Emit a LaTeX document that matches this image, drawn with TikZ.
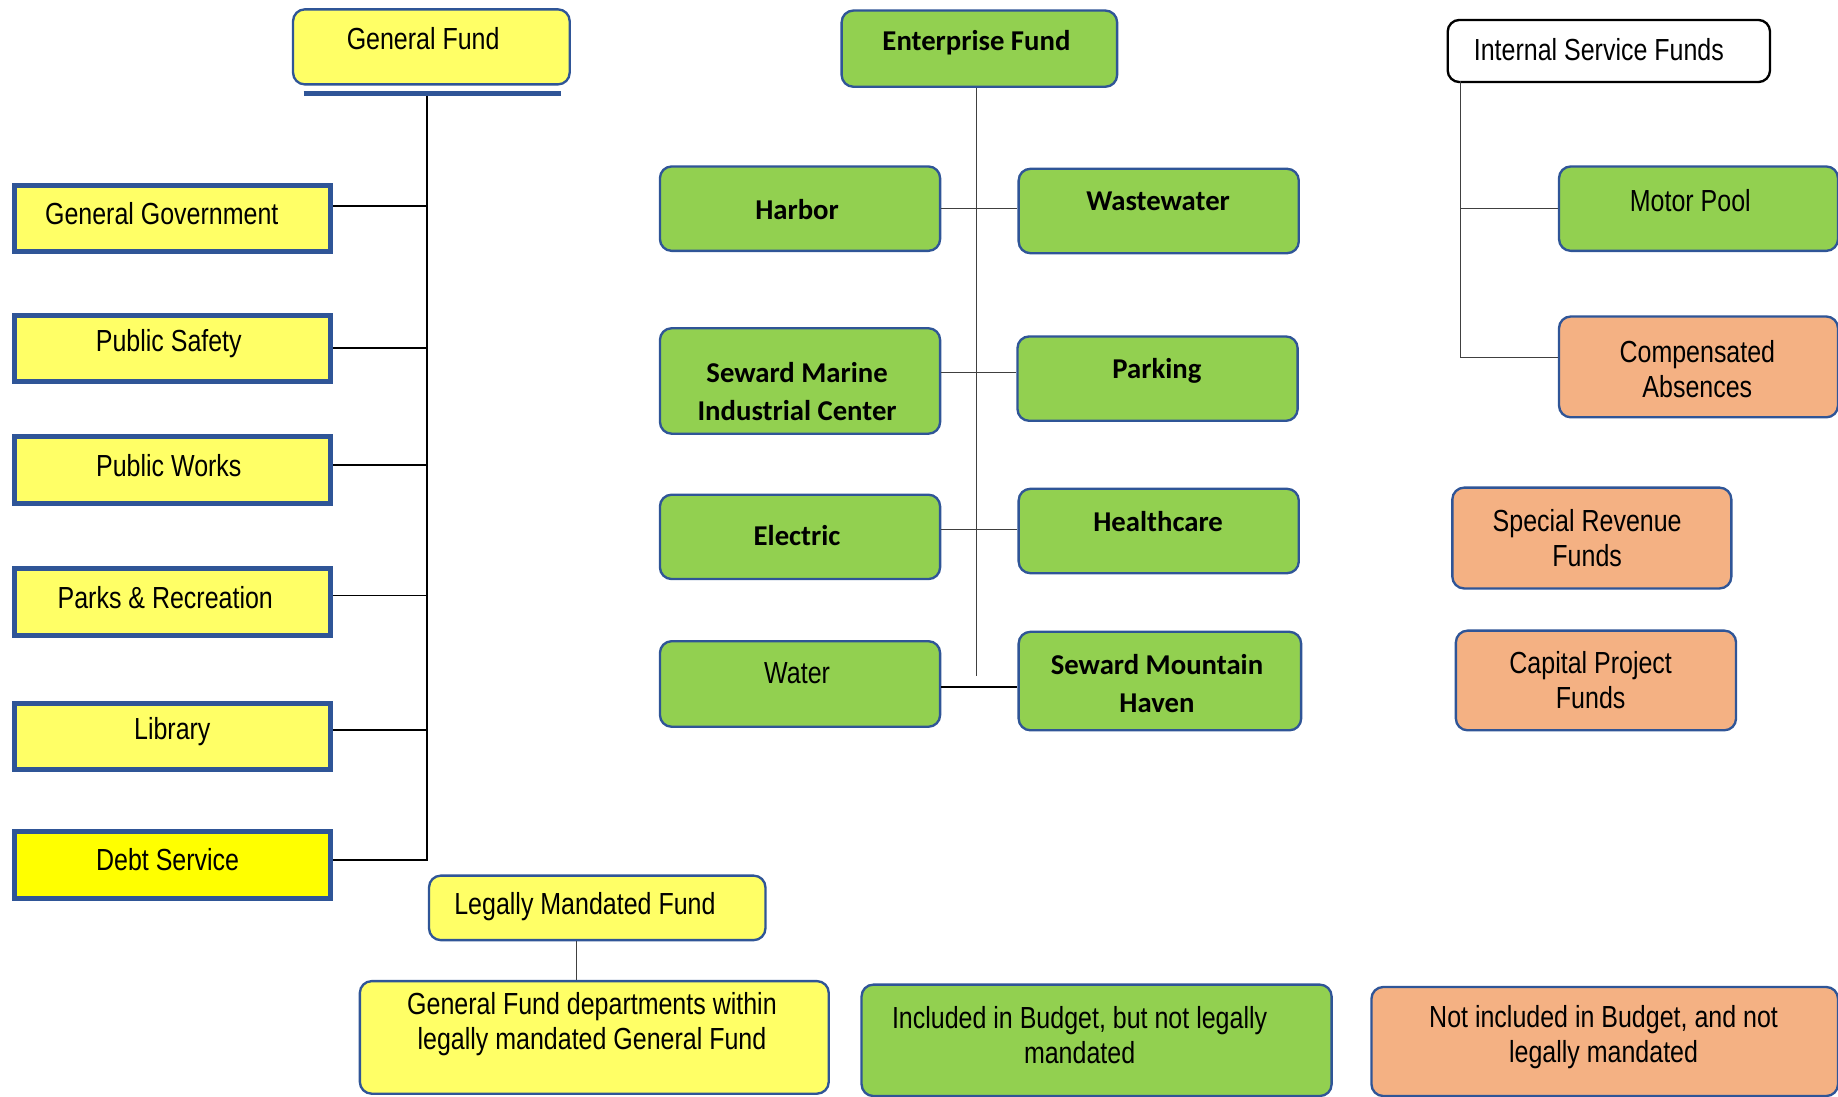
\documentclass[tikz,border=0pt]{standalone}
\usepackage{fontspec}
\setmainfont{Liberation Sans}[FakeStretch=0.82]
\newfontfamily\calib{Carlito}
\usetikzlibrary{calc}
\definecolor{ly}{HTML}{FFFF66}
\definecolor{yy}{HTML}{FFFF00}
\definecolor{gr}{HTML}{92D050}
\definecolor{orr}{HTML}{F4B183}
\definecolor{bb}{HTML}{2F5597}
\definecolor{ln}{HTML}{404040}
\begin{document}
\begin{tikzpicture}[x=1pt,y=-1pt,
  rbox/.style={draw=bb, line width=2pt, rounded corners=10pt, anchor=north west, inner sep=0pt},
  sbox/.style={draw=bb, line width=4.5pt, anchor=north west, inner sep=0pt, fill=ly},
  txt/.style={font=\fontsize{26}{30}\selectfont, align=center, inner sep=0pt},
  btxt/.style={font=\calib\bfseries\fontsize{24.5}{32}\selectfont, align=center, inner sep=0pt},
  thin/.style={draw=ln, line width=1.1pt},
  blk/.style={draw=black, line width=1.6pt}]
\useasboundingbox (0,0) rectangle (1568,935);
% ---------- General Fund column ----------
\node[rbox, fill=ly, minimum width=236pt, minimum height=64pt] (gf) at (249,7) {};
\node[txt] (gft) at (361,33) {General Fund};
\coordinate (barL) at (259,80);
\coordinate (barR) at (479,80);
\draw[bb, line width=4pt] (barL) -- (barR);
\coordinate (gtop) at (364,82);

\node[sbox, minimum width=270pt, minimum height=56pt] (gg) at (10,156) {};
\node[txt] (ggt) at (138,182) {General Government};
\node[sbox, minimum width=270pt, minimum height=56pt] (ps) at (10,267) {};
\node[txt] (pst) at (144,293) {Public Safety};
\node[sbox, minimum width=270pt, minimum height=57pt] (pw) at (10,370) {};
\node[txt] (pwt) at (144,397) {Public Works};
\node[sbox, minimum width=270pt, minimum height=57pt] (pr) at (10,483) {};
\node[txt] (prt) at (141,510) {Parks \& Recreation};
\node[sbox, minimum width=270pt, minimum height=56pt] (lib) at (10,598) {};
\node[txt] (libt) at (147,624) {Library};
\node[sbox, fill=yy, minimum width=270pt, minimum height=57pt] (debt) at (10,707) {};
\node[txt] (debtt) at (143,733) {Debt Service};

\draw[blk] (gtop) |- (debt.east |- 0,734);
\draw[blk] (gg.east |- 0,176) -- (gtop |- 0,176);
\draw[blk] (ps.east |- 0,297) -- (gtop |- 0,297);
\draw[blk] (pw.east |- 0,397) -- (gtop |- 0,397);
\draw[blk] (pr.east |- 0,508) -- (gtop |- 0,508);
\draw[blk] (lib.east |- 0,623) -- (gtop |- 0,623);

\node[rbox, fill=ly, minimum width=287pt, minimum height=55pt] (lmf) at (365,746) {};
\node[txt] (lmft) at (499,773) {Legally Mandated Fund};
\node[rbox, fill=ly, minimum width=400pt, minimum height=96pt] (gfd) at (306,836) {};
\node[txt] (gfdt) at (505,874) {General Fund departments within\\legally mandated General Fund};
\draw[thin] (lmf.south -| 492,0) -- (gfd.north -| 492,0);

% ---------- Enterprise Fund ----------
\node[rbox, fill=gr, minimum width=235pt, minimum height=65pt] (ef) at (717,8) {};
\node[btxt] (eft) at (833,36) {Enterprise Fund};
\node[rbox, fill=gr, minimum width=239pt, minimum height=72pt] (harbor) at (562,141) {};
\node[btxt] (harbort) at (680,179) {Harbor};
\node[rbox, fill=gr, minimum width=239pt, minimum height=72pt] (ww) at (868,143) {};
\node[btxt] (wwt) at (988,172) {Wastewater};
\node[rbox, fill=gr, minimum width=239pt, minimum height=90pt] (smic) at (562,279) {};
\node[btxt] (smict) at (680,334) {Seward Marine\\Industrial Center};
\node[rbox, fill=gr, minimum width=239pt, minimum height=72pt] (park) at (867,286) {};
\node[btxt] (parkt) at (987,316) {Parking};
\node[rbox, fill=gr, minimum width=239pt, minimum height=72pt] (elec) at (562,421) {};
\node[btxt] (elect) at (680,457) {Electric};
\node[rbox, fill=gr, minimum width=239pt, minimum height=72pt] (hc) at (868,416) {};
\node[btxt] (hct) at (988,445) {Healthcare};
\node[rbox, fill=gr, minimum width=239pt, minimum height=73pt] (water) at (562,546) {};
\node[txt] (watert) at (680,574) {Water};
\node[rbox, fill=gr, minimum width=241pt, minimum height=84pt] (smh) at (868,538) {};
\node[btxt] (smht) at (987,583) {Seward Mountain\\Haven};

\coordinate (eend) at (833,577);
\draw[thin] (ef.south -| eend) -- (eend);
\draw[thin] (harbor.east |- 0,178) -- (ww.west |- 0,178);
\draw[thin] (smic.east |- 0,318) -- (park.west |- 0,318);
\draw[thin] (elec.east |- 0,452) -- (hc.west |- 0,452);
\draw[blk] (water.east |- 0,586) -- (smh.west |- 0,586);

% ---------- Internal Service Funds ----------
\node[draw=black, line width=2pt, rounded corners=10pt, anchor=north west, inner sep=0pt, fill=white,
      minimum width=275pt, minimum height=53pt] (isf) at (1234,16) {};
\node[txt] (isft) at (1364,42) {Internal Service Funds};
\node[rbox, fill=gr, minimum width=238pt, minimum height=72pt] (motor) at (1329,141) {};
\node[txt] (motort) at (1442,171) {Motor Pool};
\node[rbox, fill=orr, minimum width=238pt, minimum height=86pt] (comp) at (1329,269) {};
\node[txt] (compt) at (1448,315) {Compensated\\Absences};
\coordinate (itop) at (1246,69);
\draw[thin] (itop) |- (comp.west |- 0,305);
\draw[thin] (motor.west |- 0,178) -- (itop |- 0,178);

\node[rbox, fill=orr, minimum width=238pt, minimum height=86pt] (srf) at (1238,415) {};
\node[txt] (srft) at (1354,459) {Special Revenue\\Funds};
\node[rbox, fill=orr, minimum width=239pt, minimum height=85pt] (cpf) at (1241,537) {};
\node[txt] (cpft) at (1357,580) {Capital Project\\Funds};

% ---------- Legend ----------
\node[rbox, fill=gr, minimum width=401pt, minimum height=95pt] (inc) at (734,839) {};
\node[txt] (inct) at (921,883) {Included in Budget, but not legally\\mandated};
\node[rbox, fill=orr, minimum width=398pt, minimum height=93pt] (notinc) at (1169,841) {};
\node[txt] (notinct) at (1368,885) {Not included in Budget, and not\\legally mandated};
\end{tikzpicture}
\end{document}
